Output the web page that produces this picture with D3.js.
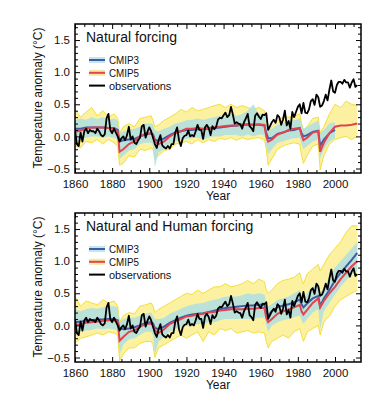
<!DOCTYPE html>
<html lang="en">
<head>
    <meta charset="UTF-8">
    <title>forcing</title>
    <script src="https://d3js.org/d3.v7.min.js"></script>
    <style>
        body { margin: 0; background: #fff; }
        text { font-family: "Liberation Sans", Arial, Helvetica, sans-serif; fill: #111; }
        .axis path { display: none; }
        .axis line { stroke: #000; stroke-width: 1; }
        .axis text { font-size: 11.5px; }
    </style>
</head>
<body>
<script>
    // annual observations, 1860-2012
    const obsStart = 1860
    const observations = [
        0.10, -0.12, -0.15, 0.06, -0.08, 0.08, 0.12, 0.05, 0.10, 0.08,
        0.08, 0.05, 0.12, 0.08, 0.02, 0.00, 0.03, 0.28, 0.35, 0.10,
        0.05, 0.12, 0.06, 0.00, -0.08, -0.03, 0.00, -0.06, 0.02, 0.15,
        -0.05, 0.00, -0.10, -0.12, -0.06, -0.02, 0.16, 0.18, -0.02, 0.07,
        0.14, 0.08, -0.02, -0.12, -0.18, -0.06, 0.02, -0.14, -0.17, -0.19,
        -0.15, -0.19, -0.12, -0.12, 0.06, 0.14, -0.06, -0.15, -0.03, 0.01,
        0.02, 0.09, 0.00, 0.02, 0.00, 0.08, 0.18, 0.10, 0.10, -0.04,
        0.14, 0.18, 0.13, 0.02, 0.16, 0.11, 0.15, 0.26, 0.29, 0.28,
        0.33, 0.37, 0.30, 0.33, 0.46, 0.34, 0.20, 0.22, 0.20, 0.19,
        0.12, 0.22, 0.28, 0.35, 0.16, 0.13, 0.08, 0.32, 0.36, 0.31,
        0.27, 0.34, 0.33, 0.36, 0.10, 0.16, 0.22, 0.26, 0.21, 0.33,
        0.30, 0.18, 0.26, 0.40, 0.17, 0.24, 0.12, 0.38, 0.30, 0.38,
        0.46, 0.50, 0.36, 0.52, 0.37, 0.36, 0.42, 0.55, 0.58, 0.49,
        0.65, 0.61, 0.46, 0.48, 0.55, 0.65, 0.56, 0.73, 0.87, 0.70,
        0.68, 0.80, 0.85, 0.85, 0.82, 0.88, 0.84, 0.84, 0.76, 0.84,
        0.89, 0.77, 0.80
    ]

    // model years (ensemble means and spreads)
    const modelYears = [1860, 1863, 1866, 1869, 1872, 1875, 1878, 1881, 1883, 1884, 1886, 1889, 1892, 1895, 1898,
        1901, 1902, 1903, 1905, 1908, 1911, 1914, 1917, 1920, 1923, 1926, 1929, 1932, 1935, 1938,
        1941, 1944, 1947, 1950, 1953, 1956, 1959, 1962, 1963, 1964, 1966, 1969, 1972, 1975, 1978,
        1981, 1982, 1983, 1985, 1988, 1991, 1992, 1994, 1997, 2000, 2003, 2006, 2009, 2012]

    // Natural forcing
    const natCmip5 = [0.07, 0.09, 0.12, 0.14, 0.14, 0.14, 0.13, 0.12, 0.08, -0.24, -0.20, -0.12, -0.08, 0.00, 0.04,
        0.05, 0.02, -0.08, -0.12, -0.08, 0.00, 0.05, 0.08, 0.12, 0.12, 0.13, 0.12, 0.13, 0.14, 0.15,
        0.16, 0.17, 0.17, 0.18, 0.18, 0.18, 0.19, 0.18, 0.00, -0.08, -0.05, 0.03, 0.06, 0.10, 0.12,
        0.13, 0.02, -0.06, -0.02, 0.06, 0.08, -0.24, -0.10, 0.05, 0.15, 0.17, 0.17, 0.18, 0.20]
    const natCmip3 = [0.12, 0.12, 0.14, 0.14, 0.14, 0.14, 0.13, 0.13, 0.10, -0.08, -0.06, -0.05, -0.04, 0.00, 0.03,
        0.05, 0.03, -0.05, -0.07, -0.03, 0.02, 0.06, 0.08, 0.10, 0.10, 0.11, 0.11, 0.12, 0.13, 0.14,
        0.15, 0.16, 0.17, 0.18, 0.19, 0.18, 0.18, 0.17, 0.05, -0.03, -0.03, 0.04, 0.06, 0.09, 0.10,
        0.13, 0.05, 0.00, 0.02, 0.07, 0.09, -0.15, -0.05, 0.05, 0.10, null, null, null, null]
    const natCmip3Lo = [-0.10, -0.05, -0.02, 0.00, 0.00, -0.02, 0.00, -0.02, -0.05, -0.35, -0.30, -0.22, -0.20, -0.12, -0.10,
        -0.10, -0.15, -0.48, -0.25, -0.20, -0.12, -0.08, -0.05, -0.04, -0.03, -0.02, -0.05, -0.02, 0.00, 0.00,
        0.02, 0.02, 0.02, 0.00, 0.03, 0.00, 0.03, 0.02, -0.15, -0.28, -0.20, -0.10, -0.08, -0.05, -0.03,
        -0.02, -0.12, -0.20, -0.15, -0.08, -0.05, -0.35, -0.20, -0.08, -0.03, null, null, null, null]
    const natCmip3Hi = [0.25, 0.28, 0.26, 0.30, 0.27, 0.30, 0.26, 0.28, 0.25, 0.05, 0.08, 0.10, 0.12, 0.15, 0.20,
        0.20, 0.18, 0.10, 0.08, 0.12, 0.15, 0.20, 0.22, 0.25, 0.26, 0.28, 0.26, 0.28, 0.30, 0.32,
        0.33, 0.35, 0.32, 0.35, 0.40, 0.50, 0.35, 0.33, 0.20, 0.12, 0.12, 0.18, 0.20, 0.25, 0.25,
        0.28, 0.20, 0.12, 0.15, 0.20, 0.25, 0.05, 0.10, 0.20, 0.22, null, null, null, null]
    const natCmip5Lo = [-0.15, -0.18, -0.08, -0.10, -0.05, -0.12, -0.05, -0.10, -0.15, -0.45, -0.42, -0.30, -0.32, -0.20, -0.22,
        -0.18, -0.20, -0.35, -0.30, -0.22, -0.20, -0.12, -0.10, -0.08, -0.12, -0.05, -0.10, -0.05, -0.08, -0.03,
        -0.05, -0.02, -0.06, -0.02, -0.05, -0.03, -0.02, -0.05, -0.20, -0.45, -0.35, -0.20, -0.15, -0.12, -0.10,
        -0.12, -0.30, -0.42, -0.30, -0.15, -0.12, -0.52, -0.30, -0.12, -0.05, -0.02, 0.00, -0.05, 0.00]
    const natCmip5Hi = [0.42, 0.30, 0.38, 0.45, 0.32, 0.40, 0.30, 0.35, 0.28, 0.05, 0.15, 0.20, 0.15, 0.28, 0.30,
        0.32, 0.25, 0.15, 0.18, 0.25, 0.30, 0.35, 0.42, 0.38, 0.45, 0.40, 0.42, 0.45, 0.48, 0.50,
        0.45, 0.50, 0.45, 0.48, 0.45, 0.42, 0.45, 0.40, 0.25, 0.10, 0.15, 0.25, 0.30, 0.30, 0.32,
        0.35, 0.20, 0.10, 0.15, 0.28, 0.30, 0.05, 0.15, 0.35, 0.50, 0.45, 0.55, 0.50, 0.48]

    // Natural and Human forcing
    const allCmip5 = [0.00, 0.02, 0.04, 0.05, 0.06, 0.07, 0.08, 0.08, 0.06, -0.24, -0.18, -0.10, -0.08, -0.02, 0.02,
        0.03, 0.00, -0.08, -0.12, -0.06, 0.02, 0.06, 0.10, 0.14, 0.15, 0.17, 0.18, 0.20, 0.21, 0.23,
        0.24, 0.25, 0.25, 0.25, 0.26, 0.26, 0.27, 0.27, 0.12, 0.05, 0.10, 0.18, 0.22, 0.25, 0.28,
        0.32, 0.22, 0.17, 0.24, 0.35, 0.42, 0.28, 0.38, 0.50, 0.60, 0.72, 0.82, 0.92, 1.00]
    const allCmip3 = [0.05, 0.06, 0.07, 0.08, 0.09, 0.09, 0.10, 0.10, 0.08, -0.05, -0.06, -0.05, -0.03, 0.00, 0.04,
        0.05, 0.03, -0.04, -0.06, -0.02, 0.04, 0.08, 0.12, 0.15, 0.17, 0.18, 0.19, 0.21, 0.23, 0.25,
        0.27, 0.28, 0.29, 0.30, 0.31, 0.31, 0.32, 0.32, 0.20, 0.15, 0.22, 0.28, 0.31, 0.33, 0.36,
        0.40, 0.33, 0.28, 0.34, 0.42, 0.46, 0.30, 0.42, 0.55, 0.70, 0.82, 0.92, 1.02, 1.13]
    const allCmip3Lo = [-0.12, -0.10, -0.08, -0.07, -0.05, -0.06, -0.05, -0.06, -0.08, -0.45, -0.30, -0.22, -0.20, -0.15, -0.10,
        -0.10, -0.15, -0.45, -0.25, -0.18, -0.10, -0.06, -0.02, 0.00, 0.00, 0.02, 0.02, 0.05, 0.05, 0.08,
        0.10, 0.10, 0.10, 0.10, 0.10, 0.10, 0.12, 0.12, 0.00, -0.10, 0.00, 0.05, 0.08, 0.10, 0.13,
        0.15, 0.08, 0.02, 0.10, 0.20, 0.25, -0.05, 0.22, 0.35, 0.48, 0.60, 0.70, 0.80, 0.85]
    const allCmip3Hi = [0.25, 0.22, 0.25, 0.27, 0.26, 0.28, 0.30, 0.30, 0.28, 0.05, 0.10, 0.12, 0.12, 0.15, 0.18,
        0.20, 0.15, 0.10, 0.10, 0.12, 0.18, 0.22, 0.26, 0.30, 0.32, 0.34, 0.35, 0.38, 0.40, 0.42,
        0.45, 0.45, 0.45, 0.47, 0.50, 0.48, 0.50, 0.48, 0.35, 0.30, 0.33, 0.40, 0.42, 0.45, 0.50,
        0.55, 0.45, 0.40, 0.50, 0.60, 0.65, 0.50, 0.60, 0.75, 0.90, 1.00, 1.10, 1.20, 1.30]
    const allCmip5Lo = [-0.28, -0.20, -0.18, -0.15, -0.12, -0.15, -0.10, -0.12, -0.15, -0.55, -0.45, -0.35, -0.35, -0.28, -0.25,
        -0.25, -0.30, -0.50, -0.35, -0.30, -0.25, -0.20, -0.15, -0.20, -0.15, -0.10, -0.25, -0.10, -0.15, -0.05,
        -0.08, -0.05, -0.12, -0.10, -0.08, -0.12, -0.10, -0.12, -0.25, -0.35, -0.25, -0.20, -0.15, -0.20, -0.10,
        -0.05, -0.15, -0.25, -0.10, -0.05, 0.00, -0.15, 0.05, 0.15, 0.30, 0.40, 0.45, 0.50, 0.55]
    const allCmip5Hi = [0.45, 0.30, 0.38, 0.35, 0.32, 0.40, 0.35, 0.38, 0.30, 0.05, 0.15, 0.20, 0.18, 0.30, 0.32,
        0.35, 0.30, 0.20, 0.25, 0.30, 0.35, 0.40, 0.45, 0.50, 0.48, 0.55, 0.50, 0.55, 0.60, 0.60,
        0.65, 0.60, 0.62, 0.65, 0.70, 0.65, 0.72, 0.68, 0.55, 0.50, 0.55, 0.65, 0.70, 0.72, 0.75,
        0.82, 0.72, 0.65, 0.80, 0.88, 0.95, 0.85, 0.95, 1.10, 1.20, 1.30, 1.45, 1.55, 1.55]

    const panelTitles = ["Natural forcing", "Natural and Human forcing"]
    const legendLabels = ["CMIP3", "CMIP5", "observations"]
    const yearTicks = [1860, 1880, 1900, 1920, 1940, 1960, 1980, 2000]
    const tempTicks = [-0.5, 0.0, 0.5, 1.0, 1.5]

    const width = 376
    const height = 403
    const left = 75, right = 361, plotH = 149
    const panelTops = [24, 213]

    const svg = d3.select("body").append("svg")
        .attr("width", width)
        .attr("height", height)

    const xScale = d3.scaleLinear().domain([1860, 2014]).range([left, right])

    const panelData = [
        {cmip5: natCmip5, cmip3: natCmip3, lo3: natCmip3Lo, hi3: natCmip3Hi, lo5: natCmip5Lo, hi5: natCmip5Hi},
        {cmip5: allCmip5, cmip3: allCmip3, lo3: allCmip3Lo, hi3: allCmip3Hi, lo5: allCmip5Lo, hi5: allCmip5Hi}
    ]

    panelData.forEach(function (p, k) {
        const top = panelTops[k]
        const yScale = d3.scaleLinear().domain([-0.57, 1.75]).range([top + plotH, top])
        const g = svg.append("g")

        g.append("clipPath").attr("id", "clip" + k)
            .append("rect")
            .attr("x", left).attr("y", top)
            .attr("width", right - left).attr("height", plotH)

        const plot = g.append("g").attr("clip-path", "url(#clip" + k + ")")

        const rows = modelYears.map(function (yr, i) {
            return {year: yr, m5: p.cmip5[i], m3: p.cmip3[i], lo3: p.lo3[i], hi3: p.hi3[i], lo5: p.lo5[i], hi5: p.hi5[i]}
        })

        // CMIP5 ensemble spread
        plot.append("path")
            .datum(rows)
            .attr("fill", "#f8e862")
            .attr("fill-opacity", 0.6)
            .attr("d", d3.area()
                .x(function (d) { return xScale(d.year) })
                .y0(function (d) { return yScale(d.lo5) })
                .y1(function (d) { return yScale(d.hi5) }))
        ;["lo5", "hi5"].forEach(function (key) {
            plot.append("path")
                .datum(rows)
                .attr("fill", "none")
                .attr("stroke", "#f0d818")
                .attr("stroke-width", 0.8)
                .attr("d", d3.line()
                    .x(function (d) { return xScale(d.year) })
                    .y(function (d) { return yScale(d[key]) }))
        })

        // CMIP3 ensemble spread
        plot.append("path")
            .datum(rows)
            .attr("fill", "#afdfe2")
            .attr("fill-opacity", 0.85)
            .attr("d", d3.area()
                .defined(function (d) { return d.lo3 !== null })
                .x(function (d) { return xScale(d.year) })
                .y0(function (d) { return yScale(d.lo3) })
                .y1(function (d) { return yScale(d.hi3) }))

        plot.append("path")
            .datum(rows)
            .attr("fill", "none")
            .attr("stroke", "#3d5ca8")
            .attr("stroke-width", 2)
            .attr("d", d3.line()
                .defined(function (d) { return d.m3 !== null })
                .x(function (d) { return xScale(d.year) })
                .y(function (d) { return yScale(d.m3) }))

        plot.append("path")
            .datum(rows)
            .attr("fill", "none")
            .attr("stroke", "#e2434f")
            .attr("stroke-width", 2)
            .attr("d", d3.line()
                .x(function (d) { return xScale(d.year) })
                .y(function (d) { return yScale(d.m5) }))

        plot.append("path")
            .datum(observations)
            .attr("fill", "none")
            .attr("stroke", "#000")
            .attr("stroke-width", 1.8)
            .attr("stroke-linejoin", "round")
            .attr("d", d3.line()
                .x(function (d, i) { return xScale(obsStart + i) })
                .y(function (d) { return yScale(d) }))

        // axes, ticks inward on all four sides
        const minorX = d3.range(1860, 2015, 5).filter(function (v) { return v % 20 !== 0 })
        const minorY = d3.range(-5, 18).map(function (v) { return v / 10 }).filter(function (v) { return Math.abs(v * 2 - Math.round(v * 2)) > 1e-6 })

        g.append("g").attr("class", "axis")
            .attr("transform", "translate(0," + (top + plotH) + ")")
            .call(d3.axisBottom(xScale).tickValues(yearTicks).tickSize(-5).tickPadding(7).tickFormat(d3.format("d")))
        g.append("g").attr("class", "axis")
            .attr("transform", "translate(0," + (top + plotH) + ")")
            .call(d3.axisBottom(xScale).tickValues(minorX).tickSize(-3).tickFormat(""))
        g.append("g").attr("class", "axis")
            .attr("transform", "translate(0," + top + ")")
            .call(d3.axisTop(xScale).tickValues(yearTicks).tickSize(-5).tickFormat(""))
        g.append("g").attr("class", "axis")
            .attr("transform", "translate(0," + top + ")")
            .call(d3.axisTop(xScale).tickValues(minorX).tickSize(-3).tickFormat(""))

        g.append("g").attr("class", "axis")
            .attr("transform", "translate(" + left + ",0)")
            .call(d3.axisLeft(yScale).tickValues(tempTicks).tickSize(-5).tickPadding(5).tickFormat(d3.format(".1f")))
        g.append("g").attr("class", "axis")
            .attr("transform", "translate(" + left + ",0)")
            .call(d3.axisLeft(yScale).tickValues(minorY).tickSize(-3).tickFormat(""))
        g.append("g").attr("class", "axis")
            .attr("transform", "translate(" + right + ",0)")
            .call(d3.axisRight(yScale).tickValues(tempTicks).tickSize(-5).tickFormat(""))
        g.append("g").attr("class", "axis")
            .attr("transform", "translate(" + right + ",0)")
            .call(d3.axisRight(yScale).tickValues(minorY).tickSize(-3).tickFormat(""))

        g.append("rect")
            .attr("x", left).attr("y", top)
            .attr("width", right - left).attr("height", plotH)
            .attr("fill", "none")
            .attr("stroke", "#000")
            .attr("stroke-width", 1.5)

        g.append("text")
            .text(panelTitles[k])
            .attr("x", 86)
            .attr("y", top + 18)
            .attr("font-size", 14)

        // legend
        const swatchBg = ["#c3e7ea", "#f6e9a6", null]
        const swatchFg = ["#3d5ca8", "#e2434f", "#000"]
        legendLabels.forEach(function (lab, i) {
            const ly = top + 36 + i * 12.8
            if (swatchBg[i]) {
                g.append("rect")
                    .attr("x", 89).attr("y", ly - 3)
                    .attr("width", 16).attr("height", 6)
                    .attr("fill", swatchBg[i])
            }
            g.append("line")
                .attr("x1", 89).attr("x2", 105)
                .attr("y1", ly).attr("y2", ly)
                .attr("stroke", swatchFg[i])
                .attr("stroke-width", 2)
            const t = g.append("text")
                .text(lab)
                .attr("x", 109)
                .attr("y", ly + 4)
                .attr("font-size", 11)
            if (i < 2) t.attr("textLength", 30).attr("lengthAdjust", "spacingAndGlyphs")
        })

        g.append("text")
            .text("Temperature anomaly (°C)")
            .attr("font-size", 12)
            .attr("text-anchor", "middle")
            .attr("transform", "translate(42," + (top + 74) + ") rotate(-90)")

        g.append("text")
            .text("Year")
            .attr("font-size", 12)
            .attr("text-anchor", "middle")
            .attr("x", (left + right) / 2)
            .attr("y", top + plotH + 27)
    })
</script>
</body>
</html>
